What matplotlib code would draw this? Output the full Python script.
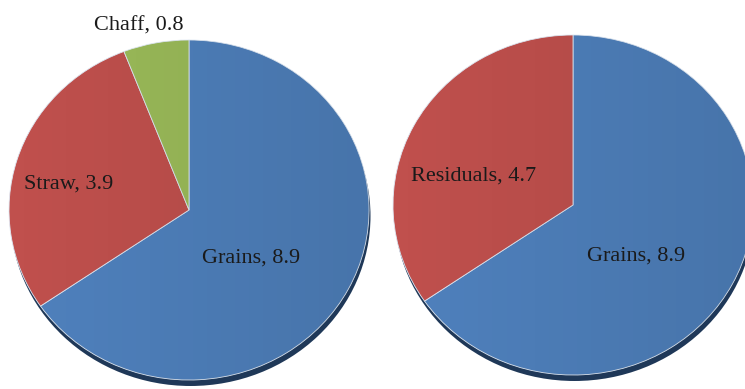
import matplotlib
matplotlib.use("Agg")
import matplotlib.pyplot as plt
import numpy as np
from matplotlib.patches import Ellipse

# Harvest components (left) and grains vs. residuals (right)
left_labels = ["Grains", "Straw", "Chaff"]
left_values = [8.9, 3.9, 0.8]
right_labels = ["Grains", "Residuals"]
right_values = [8.9, 4.7]

left_colors = ["#4F81BD", "#C0504D", "#9BBB59"]
right_colors = ["#4F81BD", "#C0504D"]

W, H = 745, 389
RX, RY = 180.0, 170.0  # pixel radii of the slightly tilted pies

fig = plt.figure(figsize=(W / 100, H / 100), dpi=100)
ax = fig.add_axes([0, 0, 1, 1])

def px(x, y_top):
    """Convert pixel position (from top-left) to data units."""
    return x / RX, (H - y_top) / RY

def draw_pie(center, values, colors, labels, label_offsets):
    cx, cy = center
    # darker rim under the disc to suggest depth
    rim = Ellipse((cx + 1.5 / RX, cy - 6.0 / RY), 2.0, 2.0, facecolor="#1F3858",
                  edgecolor="none", zorder=1)
    ax.add_patch(rim)
    wedges, _ = ax.pie(values, colors=colors, startangle=90, counterclock=False,
                       center=center, radius=1.0,
                       wedgeprops=dict(edgecolor="#dfe8f3", linewidth=0.6))
    for w in wedges:
        w.set_zorder(2)
    # soft left-to-right shading across the disc
    disc = Ellipse((cx, cy), 2.0, 2.0, facecolor="none", edgecolor="none")
    ax.add_patch(disc)
    grad = np.linspace(0, 1, 256).reshape(1, -1)
    shade = np.zeros((1, 256, 4))
    shade[..., 3] = 0.10 * grad
    im = ax.imshow(shade, extent=(cx - 1, cx + 1, cy - 1, cy + 1),
                   aspect="auto", zorder=3, interpolation="bilinear")
    im.set_clip_path(disc)
    for lab, val, (dx, dy) in zip(labels, values, label_offsets):
        ax.text(cx + dx, cy + dy, f"{lab}, {val}", ha="center", va="center",
                fontsize=16, family="Liberation Serif", color="#1a1a1a", zorder=5)

left_center = px(189, 210)
right_center = px(573, 205)

draw_pie(left_center, left_values, left_colors, left_labels,
         [(0.345, -0.285), (-0.67, 0.15), (-0.28, 1.08)])
draw_pie(right_center, right_values, right_colors, right_labels,
         [(0.35, -0.30), (-0.555, 0.17)])

ax.set_aspect("auto")
ax.set_xlim(0, W / RX)
ax.set_ylim(0, H / RY)
ax.axis("off")

fig.savefig("out.png", dpi=100, facecolor="white")
